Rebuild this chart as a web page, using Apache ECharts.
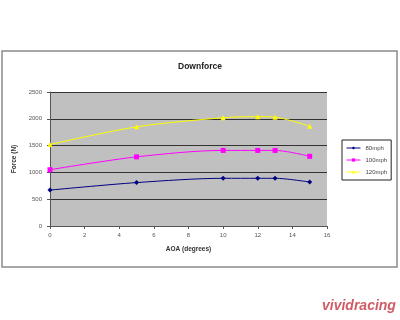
<!DOCTYPE html>
<html><head><meta charset="utf-8">
<script src="https://cdn.jsdelivr.net/npm/echarts@6/dist/echarts.min.js"></script>
<style>html,body{margin:0;padding:0;background:#fff}#c{width:400px;height:320px}</style>
</head><body><div id="c"></div>
<script>
var aoa = [0, 5, 10, 12, 13, 15];
var mph80 = [670, 810, 890, 890, 890, 820];
var mph100 = [1050, 1290, 1410, 1410, 1410, 1300];
var mph120 = [1520, 1850, 2020, 2040, 2030, 1860];
var seriesNames = ['80mph', '100mph', '120mph'];
var yTicks = [0, 500, 1000, 1500, 2000, 2500];
var xTicks = [0, 2, 4, 6, 8, 10, 12, 14, 16];

function pairs(v){ return aoa.map(function(x,i){ return [x, v[i]]; }); }
var chart = echarts.init(document.getElementById('c'));
var lbl = {color:'#555', fontSize:6, fontFamily:'Liberation Sans'};
chart.setOption({
  animation:false,
  title:{text:'Downforce', left:195, top:57, textAlign:'center',
    textStyle:{fontSize:8.5, fontWeight:'bold', color:'#222', fontFamily:'Liberation Sans'}},
  graphic:[
    {type:'rect', shape:{x:2,y:51,width:395,height:216}, style:{fill:'none', stroke:'#8a8a8a', lineWidth:1.5}, z:-1},
    {type:'text', left:322, top:299, style:{text:'vividracing', fill:'#c8404a', font:'italic bold 14px Liberation Sans', opacity:0.85}}
  ],
  legend:{orient:'vertical', left:342, top:140, width:46, itemWidth:14, itemHeight:4, itemGap:6,
    padding:[5,4,5,4], borderColor:'#222', borderWidth:1,
    lineStyle:{width:1},
    textStyle:{fontSize:6, color:'#444', fontFamily:'Liberation Sans'},
    data:seriesNames},
  grid:{left:50, right:73, top:92, bottom:94, show:true, backgroundColor:'#c0c0c0', borderWidth:0},
  xAxis:{type:'value', min:0, max:16, interval:2,
    name:'AOA (degrees)', nameLocation:'middle', nameGap:20,
    nameTextStyle:{fontSize:6.5, fontWeight:'bold', color:'#333', fontFamily:'Liberation Sans'},
    axisLine:{lineStyle:{color:'#555'}}, axisTick:{show:true, length:3, lineStyle:{color:'#555'}},
    splitLine:{show:false}, axisLabel:Object.assign({margin:6}, lbl)},
  yAxis:{type:'value', min:0, max:2500, interval:500,
    name:'Force (N)', nameLocation:'middle', nameGap:32, nameRotate:90,
    nameTextStyle:{fontSize:6.5, fontWeight:'bold', color:'#333', fontFamily:'Liberation Sans'},
    axisLine:{show:true, lineStyle:{color:'#555'}}, axisTick:{show:true, length:3, lineStyle:{color:'#555'}},
    splitLine:{lineStyle:{color:'#333', width:1}},
    axisLabel:Object.assign({margin:8, formatter:function(v){return String(v);}}, lbl)},
  series:[
    {name:seriesNames[0], type:'line', data:pairs(mph80), smooth:0.3, symbol:'diamond', symbolSize:5,
      itemStyle:{color:'#000080'}, lineStyle:{color:'#000080', width:1}},
    {name:seriesNames[1], type:'line', data:pairs(mph100), smooth:0.3, symbol:'rect', symbolSize:5,
      itemStyle:{color:'#ff00ff'}, lineStyle:{color:'#ff00ff', width:1}},
    {name:seriesNames[2], type:'line', data:pairs(mph120), smooth:0.3, symbol:'triangle', symbolSize:5,
      itemStyle:{color:'#ffff00'}, lineStyle:{color:'#ffff00', width:1}}
  ]
});
</script></body></html>
